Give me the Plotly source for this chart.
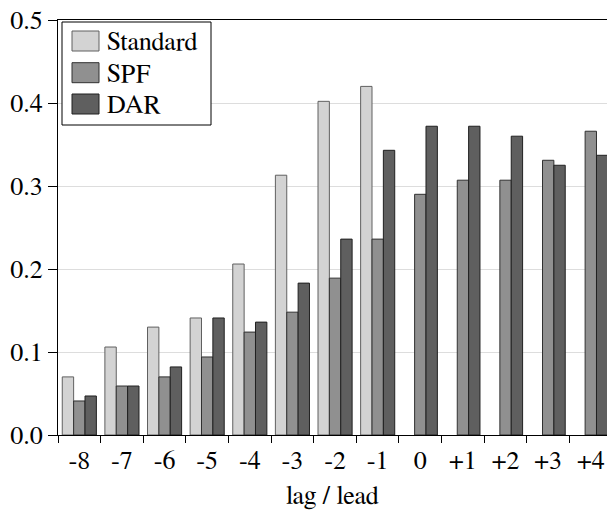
import plotly.graph_objects as go

categories = ["-8", "-7", "-6", "-5", "-4", "-3", "-2", "-1", "0", "+1", "+2", "+3", "+4"]
series_names = ["Standard", "SPF", "DAR"]
standard = [0.070, 0.106, 0.130, 0.141, 0.206, 0.313, 0.402, 0.420, None, None, None, None, None]
spf = [0.041, 0.059, 0.070, 0.094, 0.124, 0.148, 0.189, 0.236, 0.290, 0.307, 0.307, 0.331, 0.366]
dar = [0.047, 0.059, 0.082, 0.141, 0.136, 0.183, 0.236, 0.343, 0.372, 0.372, 0.360, 0.325, 0.337]
y_ticks = [0.0, 0.1, 0.2, 0.3, 0.4, 0.5]
y_tick_labels = ["0.0", "0.1", "0.2", "0.3", "0.4", "0.5"]

fills = ["#d3d3d3", "#909090", "#5f5f5f"]
outlines = ["#606060", "#303030", "#202020"]
FONT = "Nimbus Roman, FreeSerif, DejaVu Serif, serif"
FS = 26

W, H = 607, 510
ML, MR, MT, MB = 58, 0, 20, 75
PW, PH = W - ML - MR, H - MT - MB

fig = go.Figure()
for name, vals, fc, lc in zip(series_names, [standard, spf, dar], fills, outlines):
    fig.add_trace(go.Bar(x=categories, y=vals, name=name,
                         marker=dict(color=fc, line=dict(color=lc, width=1)),
                         showlegend=False))

def px_x(p):
    return (p - ML) / PW

def px_y(p):
    return (H - MB - p) / PH

shapes = [dict(type="rect", xref="paper", yref="paper",
               x0=px_x(62), x1=px_x(211), y0=px_y(125), y1=px_y(22),
               line=dict(color="black", width=1), fillcolor="white", layer="above")]
annotations = []
row_centers = [41, 72.7, 104]
for name, fc, lc, cy in zip(series_names, fills, outlines, row_centers):
    shapes.append(dict(type="rect", xref="paper", yref="paper",
                       x0=px_x(72), x1=px_x(99), y0=px_y(cy + 10), y1=px_y(cy - 10),
                       line=dict(color=lc, width=1), fillcolor=fc, layer="above"))
    annotations.append(dict(xref="paper", yref="paper", x=px_x(105), y=px_y(cy + 1),
                            text=name, showarrow=False, xanchor="left", yanchor="middle",
                            font=dict(family=FONT, size=FS, color="black")))

fig.update_layout(
    width=W, height=H,
    margin=dict(l=ML, r=MR, t=MT, b=MB, pad=0),
    paper_bgcolor="white", plot_bgcolor="white",
    barmode="group", bargap=0.2, bargroupgap=0,
    font=dict(family=FONT, size=FS, color="black"),
    shapes=shapes, annotations=annotations,
    xaxis=dict(range=[-0.5, 12.38], showline=True, linecolor="black", linewidth=1,
               mirror=True, ticks="outside", tickson="boundaries", ticklen=7,
               tickcolor="black", showgrid=False, ticklabelstandoff=2,
               title=dict(text="lag / lead", standoff=14, font=dict(family=FONT, size=FS)),
               tickfont=dict(family=FONT, size=FS)),
    yaxis=dict(range=[0, 0.5], tickvals=y_ticks, ticktext=y_tick_labels,
               showline=True, linecolor="black", linewidth=1, ticks="outside",
               ticklen=9, tickcolor="black", showgrid=True, gridcolor="#dddddd",
               zeroline=False, ticklabeloverflow="allow",
               tickfont=dict(family=FONT, size=FS)),
)

fig.write_html("out.html", config={"displayModeBar": False},
               post_script="document.body.style.margin='0';document.body.style.overflow='hidden';")
